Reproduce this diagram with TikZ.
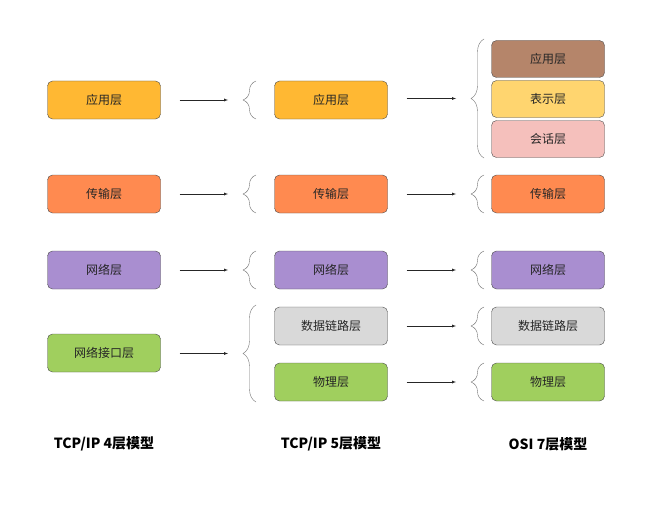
\documentclass[tikz,border=0pt]{standalone}
\usepackage{fontspec}
\setmainfont{Noto Sans CJK SC}
\usetikzlibrary{decorations.pathreplacing}
\tikzset{>=latex}
\usepackage{xcolor}
\definecolor{appcol}{RGB}{255,184,51}
\definecolor{transcol}{RGB}{255,138,80}
\definecolor{netcol}{RGB}{169,142,208}
\definecolor{ifcol}{RGB}{160,207,94}
\definecolor{linkcol}{RGB}{217,217,217}
\definecolor{osiappcol}{RGB}{181,133,106}
\definecolor{prescol}{RGB}{255,213,111}
\definecolor{sesscol}{RGB}{245,192,188}
\tikzstyle{layer}=[draw=black!70,rounded corners=5pt,minimum width=113pt,minimum height=38pt,inner sep=0,text=black!85,font=\fontsize{12}{14}\selectfont]
\tikzstyle{bracket}=[draw=black!55,decorate,decoration={brace,amplitude=13pt}]
\tikzstyle{flow}=[->,black!85,shorten <=19pt,shorten >=14pt]
\tikzstyle{title}=[font=\bfseries\fontsize{14}{16}\selectfont]

\begin{document}
\begin{tikzpicture}[x=1pt,y=-1pt]
  \useasboundingbox (0,0) rectangle (652,508);
  \def\Xa{104}
  \def\Xb{331}
  \def\Xc{548}
  % TCP/IP 4
  \node[layer,fill=appcol] (a1) at (\Xa,100) {应用层};
  \node[layer,fill=transcol] (a2) at (\Xa,194) {传输层};
  \node[layer,fill=netcol] (a3) at (\Xa,270) {网络层};
  \node[layer,fill=ifcol] (a4) at (\Xa,353) {网络接口层};
  % TCP/IP 5
  \node[layer,fill=appcol] (b1) at (\Xb,100) {应用层};
  \node[layer,fill=transcol] (b2) at (\Xb,194) {传输层};
  \node[layer,fill=netcol] (b3) at (\Xb,270) {网络层};
  \node[layer,fill=linkcol] (b4) at (\Xb,326) {数据链路层};
  \node[layer,fill=ifcol] (b5) at (\Xb,382) {物理层};
  % OSI 7
  \node[layer,fill=osiappcol,minimum height=37pt] (c1) at (\Xc,59) {应用层};
  \node[layer,fill=prescol,minimum height=37pt] (c2) at (\Xc,99) {表示层};
  \node[layer,fill=sesscol,minimum height=37pt] (c3) at (\Xc,139) {会话层};
  \node[layer,fill=transcol] (c4) at (\Xc,194) {传输层};
  \node[layer,fill=netcol] (c5) at (\Xc,270) {网络层};
  \node[layer,fill=linkcol] (c6) at (\Xc,326) {数据链路层};
  \node[layer,fill=ifcol] (c7) at (\Xc,382) {物理层};
  % braces
  \foreach \y/\n in {100/1,194/2,270/3}{
    \draw[bracket] (256,\y+19) -- (256,\y-19);
    \coordinate (s\n) at (242,\y);
  }
  \draw[bracket] (256,402) -- (256,305);
  \coordinate (s4) at (242,353.5);
  \foreach \y/\n in {194/2,270/3,326/4,382/5}{
    \draw[bracket] (484,\y+19) -- (484,\y-19);
    \coordinate (u\n) at (470,\y);
  }
  \draw[bracket] (484,158) -- (484,39);
  \coordinate (u1) at (470,98.5);
  % arrows
  \foreach \n in {1,...,4}
    \draw[flow] (a\n.east |- s\n) -- (s\n);
  \foreach \n in {1,...,5}
    \draw[flow] (b\n.east |- u\n) -- (u\n);
  % titles
  \node[title] (ta) at (\Xa,444) {TCP/IP 4层模型};
  \node[title] (tb) at (\Xb,444) {TCP/IP 5层模型};
  \node[title] (tc) at (\Xc,444) {OSI 7层模型};
\end{tikzpicture}
\end{document}
